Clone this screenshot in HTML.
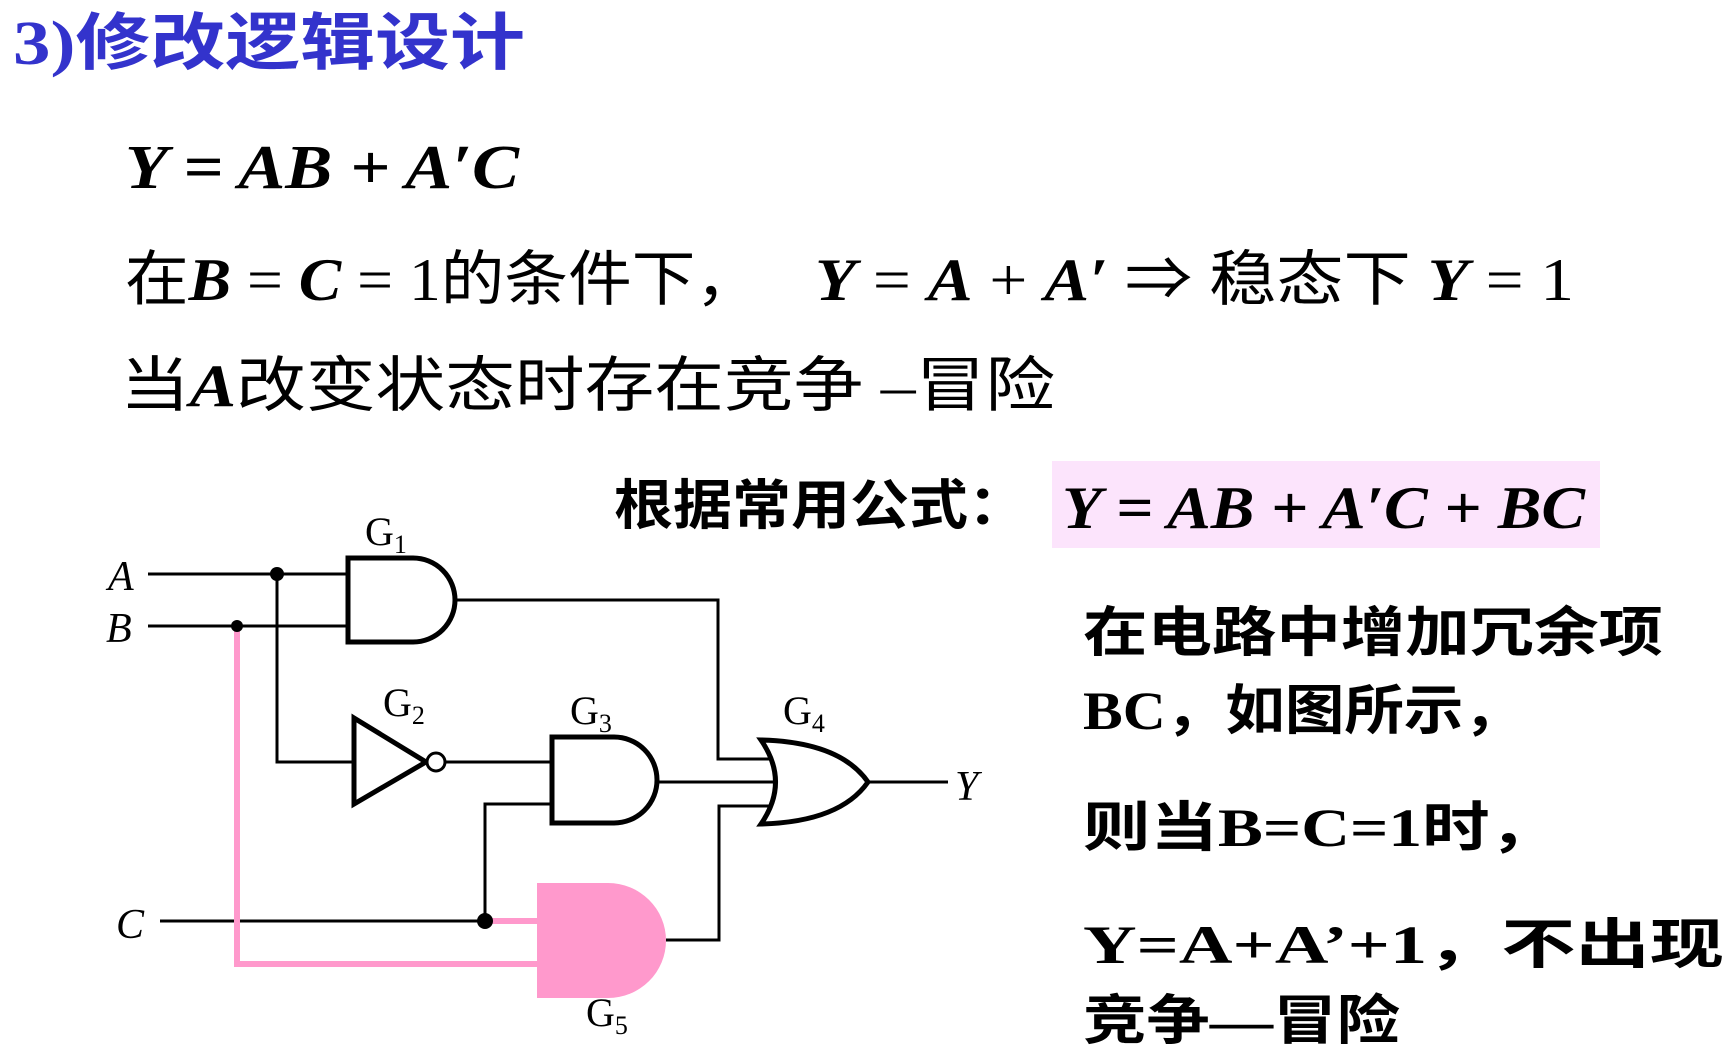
<!DOCTYPE html>
<html><head><meta charset="utf-8"><style>
html,body{margin:0;padding:0;background:#fff;}
svg{display:block}
.s{font-family:"Liberation Serif","Noto Serif CJK SC",serif;}
.m{font-family:"Liberation Serif","Noto Sans CJK SC",serif;}
</style></head><body>
<svg width="1730" height="1057" viewBox="0 0 1730 1057" xmlns="http://www.w3.org/2000/svg">
<text x="13" y="64" class="m" font-size="62" font-weight="bold" fill="#3333cc" textLength="512" lengthAdjust="spacingAndGlyphs">3)修改逻辑设计</text>
<text x="125" y="188" class="s" font-size="62" font-style="italic" font-weight="bold" textLength="394" lengthAdjust="spacingAndGlyphs">Y = AB + A′C</text>
<text x="125" y="300" class="m" font-size="60" textLength="634" lengthAdjust="spacingAndGlyphs">在<tspan font-style="italic" font-weight="bold">B</tspan> = <tspan font-style="italic" font-weight="bold">C</tspan> = 1的条件下，</text>
<text x="815" y="300" class="m" font-size="60" textLength="759" lengthAdjust="spacingAndGlyphs"><tspan font-style="italic" font-weight="bold">Y</tspan> = <tspan font-style="italic" font-weight="bold">A</tspan> + <tspan font-style="italic" font-weight="bold">A′</tspan> ⇒ 稳态下 <tspan font-style="italic" font-weight="bold">Y</tspan> = 1</text>
<text x="120" y="406" class="m" font-size="60" textLength="935" lengthAdjust="spacingAndGlyphs">当<tspan font-style="italic" font-weight="bold">A</tspan>改变状态时存在竞争 –冒险</text>
<text x="614" y="524" class="m" font-size="54" font-weight="bold" textLength="413" lengthAdjust="spacingAndGlyphs">根据常用公式：</text>
<rect x="1052" y="461" width="548" height="87" fill="#fce4fc"/>
<text x="1062" y="528" class="s" font-size="60" font-style="italic" font-weight="bold" textLength="523" lengthAdjust="spacingAndGlyphs">Y = AB + A′C + BC</text>

<g class="m" font-size="54" font-weight="bold">
<text x="1083" y="651" textLength="580" lengthAdjust="spacingAndGlyphs">在电路中增加冗余项</text>
<text x="1083" y="729" textLength="440" lengthAdjust="spacingAndGlyphs">BC，如图所示，</text>
<text x="1083" y="846" textLength="474" lengthAdjust="spacingAndGlyphs">则当B=C=1时，</text>
<text x="1083" y="963" textLength="641" lengthAdjust="spacingAndGlyphs">Y=A+A’+1，不出现</text>
<text x="1083" y="1039" textLength="317" lengthAdjust="spacingAndGlyphs">竞争—冒险</text>
</g>

<!-- wires -->
<g stroke="#000" stroke-width="3" fill="none">
<path d="M148,574 H348"/>
<path d="M148,626 H348"/>
<path d="M277,574 V762 H354"/>
<path d="M436,762 H552"/>
<path d="M455,600 H718 V759 H770"/>
<path d="M657,782 H774"/>
<path d="M666,940 H719 V806 H770"/>
<path d="M160,921 H485 V804 H552"/>
<path d="M868,782 H948"/>
</g>
<!-- pink wires -->
<g stroke="#ff99cc" stroke-width="6" fill="none">
<path d="M237,626 V964 H540"/>
<path d="M485,921 H540"/>
</g>
<circle cx="277" cy="574" r="7"/>
<circle cx="237" cy="626" r="6"/>
<circle cx="485" cy="921" r="8"/>
<!-- gates -->
<g stroke="#000" stroke-width="5" fill="#fff">
<path d="M348,558 H413 A42,42 0 0 1 413,642 H348 Z"/>
<path d="M354,718 L426,762 L354,804 Z"/>
<circle cx="436" cy="762" r="9" stroke-width="3"/>
<path d="M552,737 H614 A43,43 0 0 1 614,823 H552 Z"/>
<path d="M761,740 Q790,782 761,824 Q840,822 868,782 Q840,742 761,740 Z"/>
</g>
<path d="M537,883 H608 A58,57.5 0 0 1 608,998 H537 Z" fill="#ff99cc"/>
<!-- labels -->
<g class="s" font-size="42" font-style="italic">
<text x="108" y="590">A</text>
<text x="106" y="642">B</text>
<text x="116" y="938">C</text>
<text x="955" y="800">Y</text>
</g>
<g class="s" font-size="40">
<text x="365" y="545">G<tspan font-size="26" dy="8">1</tspan></text>
<text x="383" y="716">G<tspan font-size="26" dy="8">2</tspan></text>
<text x="570" y="724">G<tspan font-size="26" dy="8">3</tspan></text>
<text x="783" y="724">G<tspan font-size="26" dy="8">4</tspan></text>
<text x="586" y="1026">G<tspan font-size="26" dy="8">5</tspan></text>
</g>
</svg>
</body></html>
